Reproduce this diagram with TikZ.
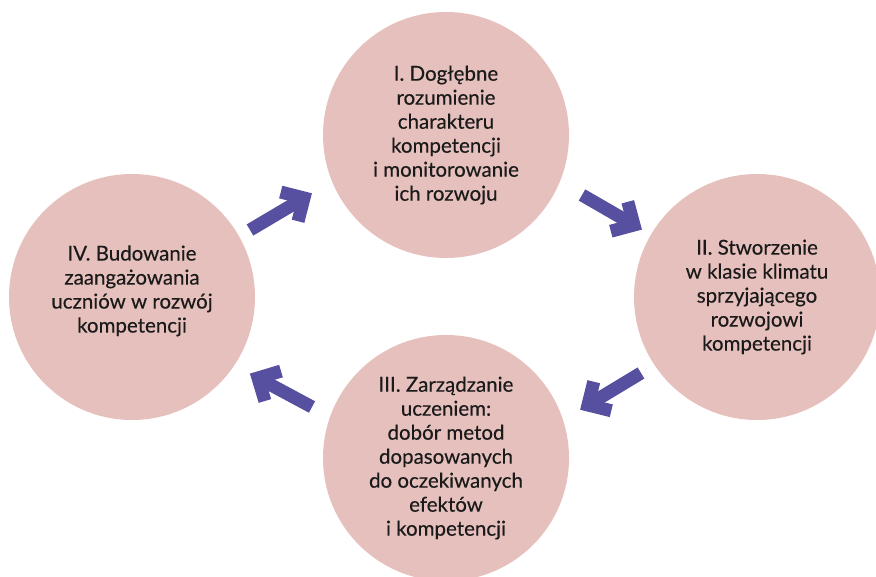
\documentclass[tikz,border=0pt]{standalone}
\usepackage{fontspec}
\setmainfont{Lato}[FakeBold=0.3]
\usetikzlibrary{calc}
\definecolor{circfill}{HTML}{E6C0BC}
\definecolor{arrcol}{HTML}{5750A0}
\definecolor{txtcol}{HTML}{1A1A1A}
\begin{document}
\begin{tikzpicture}[x=1pt,y=-1pt,
  stage/.style={circle, fill=circfill, minimum size=246pt, inner sep=0pt,
    align=center, font=\fontsize{20.5}{24}\selectfont, text=txtcol},
  cyclearrow/.style={draw=arrcol, line width=13pt, miter limit=10, line join=miter}]
\useasboundingbox (0,0) rectangle (876,577);
\node[stage] (s1) at (446,135) {I. Dogłębne\\rozumienie\\charakteru\\kompetencji\\i monitorowanie\\ich rozwoju};
\node[stage] (s2) at (757,297) {II. Stworzenie\\w klasie klimatu\\sprzyjającego\\rozwojowi\\kompetencji};
\node[stage] (s3) at (446,458) {III. Zarządzanie\\uczeniem:\\dobór metod\\dopasowanych\\do oczekiwanych\\efektów\\i kompetencji};
\node[stage] (s4) at (132,297) {IV. Budowanie\\zaangażowania\\uczniów w rozwój\\kompetencji\\[-8pt]};
% arrow end points
\coordinate (a1s) at (250,230); \coordinate (a1e) at (304,198);
\coordinate (a2s) at (582,195); \coordinate (a2e) at (634,225);
\coordinate (a3s) at (641,373); \coordinate (a3e) at (588,405);
\coordinate (a4s) at (312,407); \coordinate (a4e) at (258,378);
\foreach \s/\e in {a1s/a1e, a2s/a2e, a3s/a3e, a4s/a4e}{
  \draw[cyclearrow] (\s) -- (\e);
  \draw[cyclearrow] ($(\e)!24pt!45:(\s)$) -- (\e) -- ($(\e)!24pt!-45:(\s)$);
}
\end{tikzpicture}
\end{document}
